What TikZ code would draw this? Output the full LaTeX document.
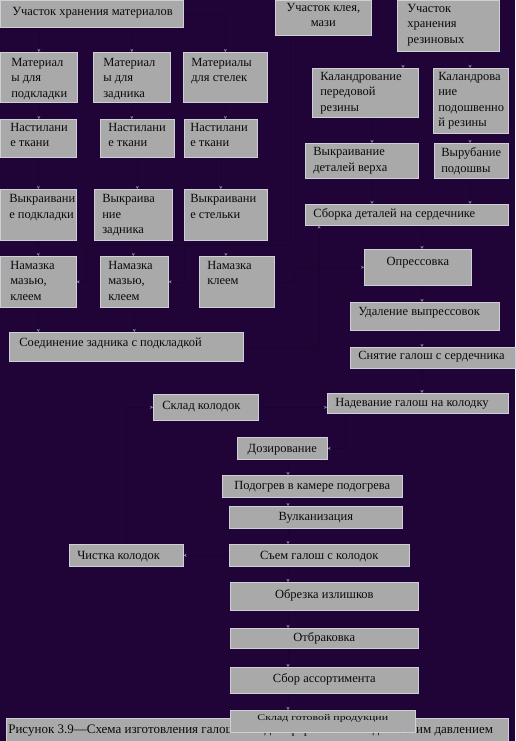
\documentclass[tikz,border=0pt]{standalone}
\usepackage{fontspec}
\usepackage{graphicx}
\setmainfont{Liberation Serif}
\usetikzlibrary{arrows.meta}
\definecolor{bgc}{HTML}{200437}
\definecolor{boxc}{HTML}{A9A9A9}
\definecolor{edgec}{HTML}{CFCFDA}
\definecolor{connc}{HTML}{1A0330}
\definecolor{tipc}{HTML}{8E8A9E}
\definecolor{txtc}{HTML}{0A0A0A}
\pgfdeclarelayer{bglayer}
\pgfsetlayers{bglayer,main}
\newcommand\lft[1]{\raggedright\leftskip=#1pt\relax}
\newcommand\bx[8]{\node[box, anchor=north west] (#1) at (#2,#3) {\parbox[c][#5pt][t]{#4pt}{\vspace*{#6pt}#7#8\par}};}
\begin{document}
\begin{tikzpicture}[x=1pt,y=-1pt,
  box/.style={fill=boxc, draw=edgec, line width=0.6pt, inner sep=0pt, text=txtc, font=\fontsize{12.5}{15.5}\selectfont},
  conn/.style={draw=connc, line width=0.5pt, -{Stealth[length=3pt,width=3pt,color=tipc]}}]
\begin{pgfonlayer}{bglayer}
\fill[bgc] (0,0) rectangle (515,741);
\end{pgfonlayer}
\useasboundingbox (0,0) rectangle (515,741);

% top row
\bx{store}{0}{0}{183}{27}{7}{\lft{12}}{Участок хранения материалов}
\bx{klei}{275}{0}{96}{35}{3}{\centering}{Участок клея,\\мази}
\bx{rezin}{397}{0}{102}{51}{4}{\lft{10}}{Участок\\хранения\\резиновых}

% left column group
\bx{mat1}{0}{52}{77}{50}{6}{\lft{11}}{Материал\\ы для\\подкладки}
\bx{mat2}{93}{52}{77}{50}{6}{\lft{10}}{Материал\\ы для\\задника}
\bx{mat3}{183}{52}{84}{50}{6}{\lft{8}}{Материалы\\для стелек}

\bx{nast1}{0}{119}{76}{38}{4}{\lft{10}}{Настилани\\е ткани}
\bx{nast2}{100}{119}{74}{38}{4}{\lft{8}}{Настилани\\е ткани}
\bx{nast3}{184}{119}{73}{38}{4}{\lft{6}}{Настилани\\е ткани}

\bx{vyk1}{0}{189}{76}{51}{5.5}{\lft{9}}{Выкраивани\\е подкладки}
\bx{vyk2}{94}{189}{78}{51}{5.5}{\lft{8}}{Выкраива\\ние\\задника}
\bx{vyk3}{184}{189}{83}{51}{5.5}{\lft{6}}{Выкраивани\\е стельки}

\bx{nam1}{0}{256}{76}{51}{5}{\lft{10}}{Намазка\\мазью,\\клеем}
\bx{nam2}{100}{256}{68}{51}{5}{\lft{8}}{Намазка\\мазью,\\клеем}
\bx{nam3}{199}{256}{75}{51}{5}{\lft{8}}{Намазка\\клеем}

\bx{soed}{9}{332}{234}{29}{6}{\lft{10}}{Соединение задника с подкладкой}

% right column group
\bx{kal1}{312}{68}{106}{49}{4}{\lft{8}}{Каландрование\\передовой\\резины}
\bx{kal2}{433}{68}{75}{65}{4}{\lft{5}}{Каландрова\\ние\\подошвенно\\й резины}
\bx{verh}{305}{143}{113}{35}{4.5}{\lft{8}}{Выкраивание\\деталей верха}
\bx{vyrub}{434}{143}{74}{35}{4.5}{\lft{7}}{Вырубание\\подошвы}
\bx{sborka}{305}{204}{203}{21}{4.5}{\lft{8}}{Сборка деталей на сердечнике}
\bx{opres}{364}{249}{107}{36}{7.5}{\centering}{Опрессовка}
\bx{udal}{350}{302}{149}{28}{5.5}{\lft{8}}{Удаление выпрессовок}
\bx{snyat}{350}{347}{165}{21}{4}{\lft{8}}{Снятие галош с сердечника}
\bx{nadev}{327}{393}{181}{20}{5}{\lft{8}}{Надевание галош на колодку}

% lasts
\bx{sklad}{153}{394}{105}{26}{7}{\lft{9}}{Склад колодок}
\bx{doz}{237}{437}{90}{22}{7}{\centering}{Дозирование}
\bx{podogr}{222}{475}{180}{22}{6}{\centering}{Подогрев в камере подогрева}
\bx{vulk}{229}{506}{173}{22}{6}{\centering}{Вулканизация}
\bx{sem}{229}{544}{180}{22}{7}{\centering}{Съем галош с колодок}
\bx{chist}{69}{544}{114}{22}{7}{\lft{8}}{Чистка колодок}
\bx{obrez}{230}{582}{188}{28}{7}{\centering}{Обрезка излишков}
\bx{otbr}{230}{628}{188}{20}{4.5}{\centering}{Отбраковка}
\bx{sbor}{230}{667}{188}{26}{6.5}{\centering}{Сбор ассортимента}
\bx{caption}{6}{718}{502}{23}{6}{\lft{2}\fontsize{13}{15.5}\selectfont}{Рисунок 3.9—Схема изготовления галош методом формования под высоким давлением}
\bx{skladgot}{230}{710}{185}{22}{4}{\centering}{\scalebox{0.95}[0.7]{Склад готовой продукции}}

% column coordinates
\coordinate (cA) at (403,0);
\coordinate (cB) at (470,0);
\coordinate (cC) at (372,0);
\coordinate (cD) at (422,0);
\coordinate (cE) at (288,0);
\coordinate (cF) at (319,0);
\coordinate (cG) at (345,0);
\coordinate (g1) at (290,245);
\coordinate (g2) at (184,245);
\coordinate (g3) at (86,245);

\begin{pgfonlayer}{bglayer}
\draw[conn] (store.south -| mat1.north) -- (mat1.north);
\draw[conn] (store.south -| mat2.north) -- (mat2.north);
\draw[conn] (store.east) -| (mat3.north);
\draw[conn] (mat1.south) -- (nast1.north -| mat1.south);
\draw[conn] (mat2.south) -- (nast2.north -| mat2.south);
\draw[conn] (mat3.south) -- (nast3.north -| mat3.south);
\draw[conn] (nast1.south) -- (vyk1.north -| nast1.south);
\draw[conn] (nast2.south) -- (vyk2.north -| nast2.south);
\draw[conn] (nast3.south) -- (vyk3.north -| nast3.south);
\draw[conn] (vyk1.south) -- (nam1.north -| vyk1.south);
\draw[conn] (vyk2.south) -- (nam2.north -| vyk2.south);
\draw[conn] (vyk3.south) -- (nam3.north -| vyk3.south);
\draw[conn] (nam1.south) -- (soed.north -| nam1.south);
\draw[conn] (nam2.south) -- (soed.north -| nam2.south);
\draw[conn] (klei.south -| g1) -- (g1) -- (g2) |- (nam2.east);
\draw[conn] (g2) -- (g3) |- (nam1.east);
\draw[conn] (nam3.east) -- ++(20,0) |- (opres.west);
\draw[conn] (soed.east) -| (sborka.south -| cF);
\draw[conn] (rezin.south -| cA) -- (kal1.north -| cA);
\draw[conn] (rezin.south -| cB) -- (kal2.north -| cB);
\draw[conn] (kal1.south -| cC) -- (verh.north -| cC);
\draw[conn] (kal2.south -| cB) -- (vyrub.north -| cB);
\draw[conn] (verh.south -| cC) -- (sborka.north -| cC);
\draw[conn] (vyrub.south -| cB) -- (sborka.north -| cB);
\draw[conn] (sborka.south -| cD) -- (opres.north -| cD);
\draw[conn] (opres.south -| cD) -- (udal.north -| cD);
\draw[conn] (udal.south -| cD) -- (snyat.north -| cD);
\draw[conn] (snyat.south -| cD) -- (nadev.north -| cD);
\draw[conn] (chist.north) |- (sklad.west);
\draw[conn] (sklad.east) -- (nadev.west |- sklad.east);
\draw[conn] (nadev.south -| cG) |- (doz.east);
\draw[conn] (doz.south -| cE) -- (podogr.north -| cE);
\draw[conn] (podogr.south -| cE) -- (vulk.north -| cE);
\draw[conn] (vulk.south -| cE) -- (sem.north -| cE);
\draw[conn] (sem.west) -- (chist.east);
\draw[conn] (sem.south -| cE) -- (obrez.north -| cE);
\draw[conn] (obrez.south -| cE) -- (otbr.north -| cE);
\draw[conn] (otbr.south -| cE) -- (sbor.north -| cE);
\draw[conn] (sbor.south -| cE) -- (skladgot.north -| cE);
\end{pgfonlayer}
\end{tikzpicture}
\end{document}
